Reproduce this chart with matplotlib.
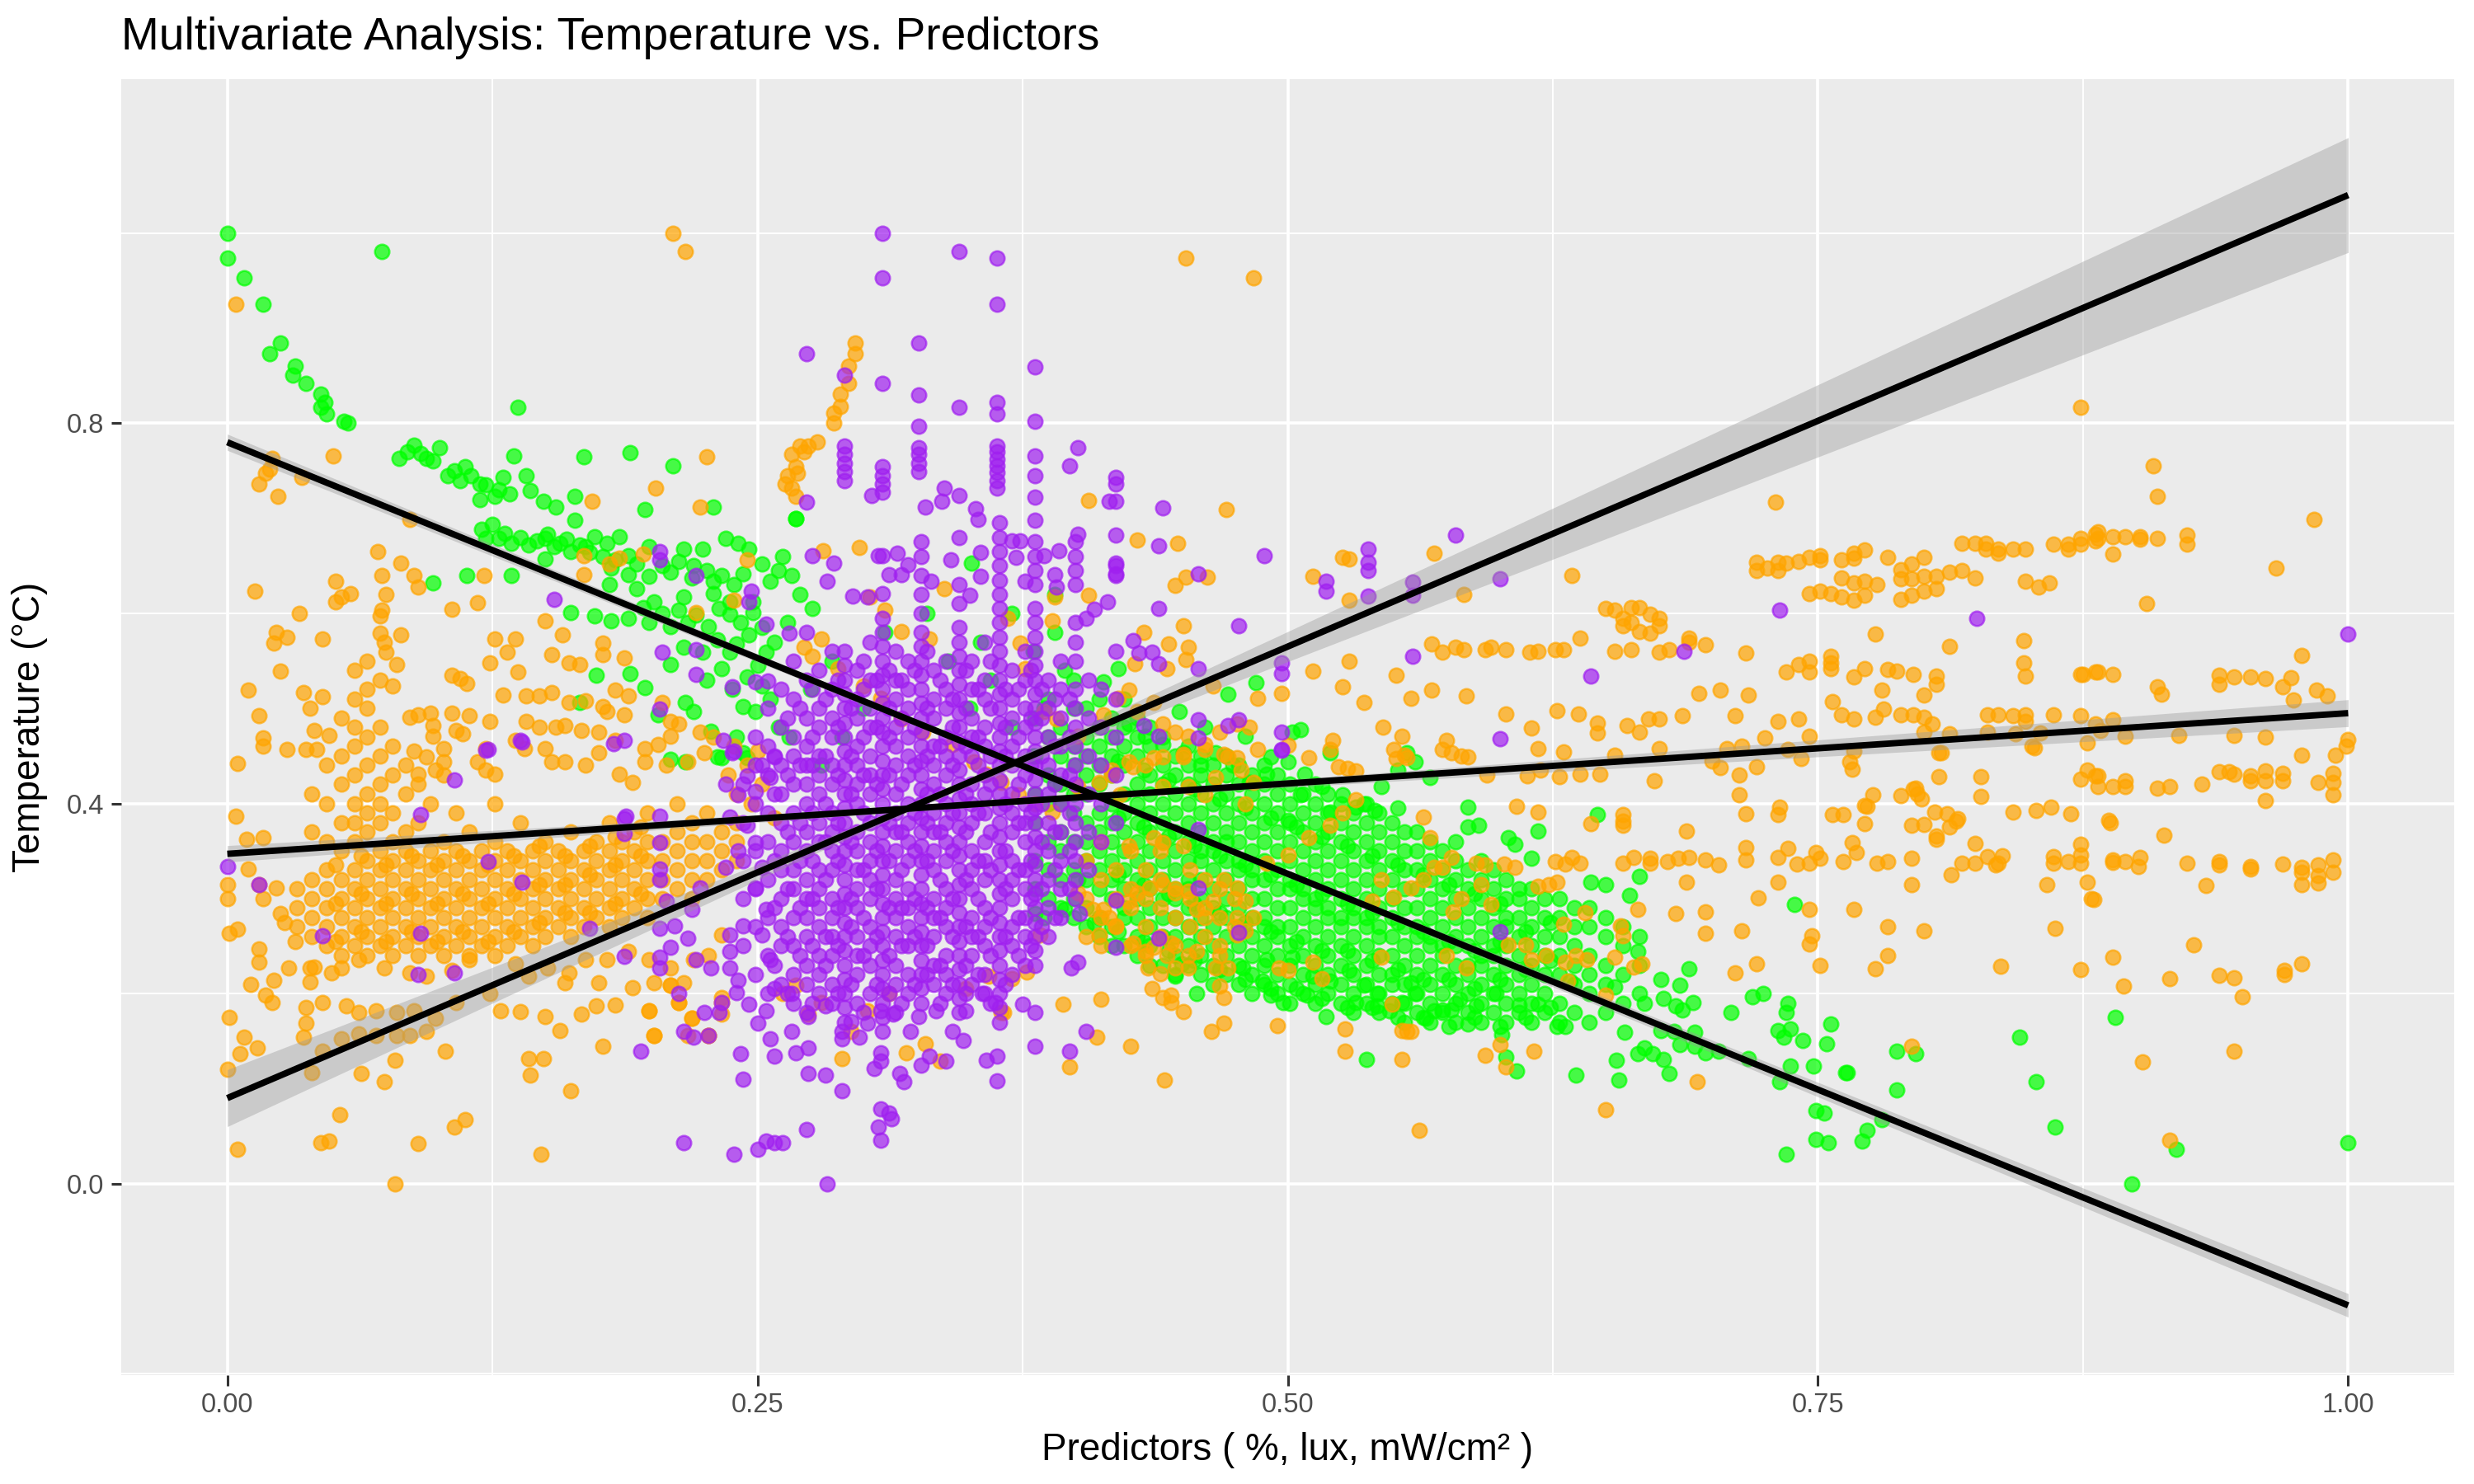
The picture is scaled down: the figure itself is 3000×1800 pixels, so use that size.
import numpy as np
import matplotlib.pyplot as plt

plt.rcParams['font.family'] = ['Liberation Sans', 'DejaVu Sans']

# colours of the three predictors
humid_col = '#00FF00'
light_col = '#FFA500'
uv_col = '#A020F0'

# ---------------- humidity (%) ----------------
humid_tail = [(0.000, 1.000), (0.000, 0.974), (0.008, 0.953), (0.017, 0.925), (0.025, 0.884),
              (0.020, 0.873), (0.032, 0.860), (0.031, 0.851), (0.037, 0.842), (0.044, 0.831),
              (0.046, 0.822), (0.044, 0.817), (0.047, 0.810), (0.055, 0.802), (0.057, 0.800),
              (0.073, 0.981), (0.137, 0.817)]

humid_ridge = [(0.081, 0.763), (0.088, 0.777), (0.100, 0.774), (0.094, 0.763), (0.104, 0.745),
               (0.112, 0.754), (0.119, 0.736), (0.119, 0.720), (0.126, 0.723), (0.135, 0.766),
               (0.141, 0.745), (0.143, 0.729), (0.130, 0.743), (0.149, 0.718), (0.155, 0.712),
               (0.164, 0.723), (0.168, 0.765), (0.190, 0.769), (0.210, 0.755), (0.197, 0.709),
               (0.229, 0.712), (0.164, 0.698), (0.125, 0.694), (0.122, 0.679), (0.128, 0.679),
               (0.134, 0.674), (0.142, 0.672), (0.150, 0.679), (0.157, 0.674), (0.151, 0.683),
               (0.173, 0.681), (0.185, 0.681), (0.179, 0.674), (0.169, 0.670), (0.189, 0.661),
               (0.199, 0.670), (0.215, 0.668), (0.224, 0.668), (0.235, 0.679), (0.241, 0.674),
               (0.246, 0.668), (0.252, 0.652), (0.260, 0.645), (0.150, 0.657), (0.162, 0.665),
               (0.181, 0.648), (0.189, 0.641), (0.199, 0.639), (0.209, 0.643), (0.219, 0.637),
               (0.229, 0.634), (0.239, 0.630), (0.256, 0.634), (0.180, 0.630), (0.193, 0.626),
               (0.201, 0.612), (0.215, 0.617), (0.229, 0.621), (0.237, 0.612), (0.248, 0.612),
               (0.162, 0.601), (0.173, 0.597), (0.181, 0.592), (0.189, 0.595), (0.199, 0.590),
               (0.209, 0.586), (0.217, 0.590), (0.227, 0.586), (0.237, 0.599), (0.248, 0.601),
               (0.231, 0.572), (0.237, 0.559), (0.246, 0.577), (0.254, 0.559), (0.224, 0.559),
               (0.209, 0.546), (0.215, 0.564), (0.233, 0.542), (0.245, 0.533), (0.252, 0.524),
               (0.174, 0.535), (0.190, 0.537), (0.197, 0.522), (0.166, 0.506), (0.216, 0.506),
               (0.220, 0.497), (0.203, 0.493), (0.243, 0.502), (0.231, 0.449), (0.216, 0.444),
               (0.097, 0.632), (0.113, 0.640), (0.134, 0.640), (0.243, 0.453), (0.249, 0.497),
               (0.209, 0.446), (0.233, 0.448), (0.245, 0.448), (0.085, 0.770), (0.091, 0.768),
               (0.097, 0.760), (0.107, 0.750), (0.110, 0.740), (0.115, 0.745), (0.122, 0.735),
               (0.128, 0.730), (0.133, 0.726), (0.120, 0.688), (0.131, 0.684), (0.138, 0.680),
               (0.146, 0.676), (0.154, 0.670), (0.160, 0.678), (0.166, 0.672), (0.171, 0.664),
               (0.177, 0.660), (0.183, 0.656), (0.193, 0.652), (0.205, 0.650), (0.213, 0.655),
               (0.220, 0.650), (0.226, 0.645), (0.233, 0.640), (0.243, 0.642), (0.196, 0.606),
               (0.205, 0.600), (0.213, 0.603), (0.221, 0.598), (0.232, 0.605), (0.242, 0.590),
               (0.252, 0.585), (0.258, 0.570), (0.240, 0.568), (0.250, 0.545), (0.226, 0.530),
               (0.238, 0.520), (0.256, 0.510), (0.260, 0.480), (0.228, 0.476), (0.240, 0.470)]

humid_hidden = [(0.262, 0.660), (0.266, 0.640), (0.270, 0.620), (0.276, 0.605), (0.264, 0.590),
                (0.268, 0.700), (0.310, 0.580), (0.330, 0.600), (0.355, 0.570), (0.370, 0.600),
                (0.380, 0.560), (0.390, 0.580), (0.395, 0.540), (0.285, 0.550), (0.275, 0.520),
                (0.300, 0.500), (0.290, 0.470), (0.265, 0.470), (0.280, 0.440), (0.350, 0.500),
                (0.370, 0.480), (0.380, 0.450), (0.390, 0.420), (0.385, 0.500), (0.360, 0.530),
                (0.340, 0.550), (0.351, 0.653), (0.390, 0.620)]

# dense cloud: x -> list of y
humid_core = {
    0.381: [0.31, 0.34, 0.38, 0.41, 0.45, 0.49],
    0.387: [0.30, 0.33, 0.36, 0.40, 0.43, 0.47, 0.51],
    0.393: [0.29, 0.32, 0.35, 0.37, 0.40, 0.42, 0.45, 0.48],
    0.399: [0.28, 0.30, 0.33, 0.36, 0.39, 0.41, 0.44, 0.46, 0.50, 0.53],
    0.405: [0.27, 0.29, 0.32, 0.34, 0.36, 0.38, 0.41, 0.43, 0.45, 0.47, 0.50],
    0.411: [0.26, 0.28, 0.31, 0.33, 0.35, 0.37, 0.39, 0.42, 0.44, 0.46, 0.48, 0.51],
    0.417: [0.25, 0.27, 0.30, 0.32, 0.34, 0.36, 0.38, 0.40, 0.43, 0.45, 0.47, 0.49],
    0.423: [0.25, 0.28, 0.29, 0.31, 0.33, 0.35, 0.37, 0.39, 0.41, 0.44, 0.46, 0.48, 0.51],
    0.429: [0.24, 0.26, 0.28, 0.30, 0.32, 0.34, 0.36, 0.38, 0.40, 0.42, 0.45, 0.47, 0.49],
    0.435: [0.23, 0.25, 0.27, 0.29, 0.31, 0.33, 0.35, 0.37, 0.39, 0.41, 0.43, 0.46, 0.48],
    0.441: [0.23, 0.26, 0.28, 0.30, 0.32, 0.34, 0.36, 0.38, 0.40, 0.42, 0.44, 0.47],
    0.447: [0.22, 0.24, 0.26, 0.28, 0.30, 0.31, 0.33, 0.35, 0.37, 0.39, 0.41, 0.43, 0.45],
    0.453: [0.23, 0.25, 0.27, 0.29, 0.31, 0.32, 0.34, 0.36, 0.38, 0.40, 0.42, 0.44, 0.46],
    0.459: [0.22, 0.24, 0.26, 0.28, 0.30, 0.32, 0.34, 0.35, 0.37, 0.39, 0.41, 0.43, 0.45],
    0.465: [0.21, 0.23, 0.25, 0.27, 0.29, 0.31, 0.33, 0.35, 0.36, 0.38, 0.40, 0.42, 0.44],
    0.471: [0.22, 0.24, 0.26, 0.28, 0.30, 0.32, 0.34, 0.36, 0.37, 0.39, 0.41, 0.43, 0.45],
    0.477: [0.21, 0.23, 0.25, 0.27, 0.29, 0.31, 0.33, 0.34, 0.36, 0.38, 0.40, 0.42, 0.44],
    0.483: [0.20, 0.22, 0.24, 0.26, 0.28, 0.30, 0.32, 0.33, 0.35, 0.37, 0.39, 0.41, 0.43],
    0.489: [0.21, 0.23, 0.25, 0.27, 0.28, 0.30, 0.32, 0.34, 0.36, 0.38, 0.40, 0.42, 0.44],
    0.495: [0.20, 0.22, 0.24, 0.26, 0.27, 0.29, 0.31, 0.33, 0.35, 0.37, 0.39, 0.41, 0.43],
    0.501: [0.19, 0.21, 0.23, 0.25, 0.27, 0.29, 0.31, 0.32, 0.34, 0.36, 0.38, 0.40, 0.42],
    0.507: [0.20, 0.22, 0.24, 0.26, 0.28, 0.30, 0.31, 0.33, 0.35, 0.37, 0.39, 0.41],
    0.513: [0.19, 0.21, 0.23, 0.25, 0.27, 0.29, 0.30, 0.32, 0.34, 0.36, 0.38, 0.40, 0.42],
    0.519: [0.20, 0.22, 0.24, 0.26, 0.28, 0.29, 0.31, 0.33, 0.35, 0.37, 0.39, 0.41],
    0.525: [0.19, 0.21, 0.23, 0.25, 0.27, 0.28, 0.30, 0.32, 0.34, 0.36, 0.38, 0.40],
    0.531: [0.18, 0.20, 0.22, 0.24, 0.26, 0.28, 0.29, 0.31, 0.33, 0.35, 0.37, 0.39],
    0.537: [0.19, 0.21, 0.23, 0.25, 0.27, 0.28, 0.30, 0.32, 0.34, 0.36, 0.38, 0.40],
    0.543: [0.18, 0.20, 0.22, 0.24, 0.26, 0.27, 0.29, 0.31, 0.33, 0.35, 0.37, 0.39],
    0.549: [0.19, 0.21, 0.22, 0.24, 0.26, 0.28, 0.30, 0.32, 0.34, 0.36, 0.38],
    0.555: [0.17, 0.19, 0.21, 0.23, 0.25, 0.27, 0.29, 0.31, 0.33, 0.35, 0.37],
    0.561: [0.18, 0.20, 0.22, 0.24, 0.26, 0.27, 0.29, 0.31, 0.33, 0.35, 0.37],
    0.567: [0.17, 0.19, 0.21, 0.23, 0.25, 0.26, 0.28, 0.30, 0.32, 0.34, 0.36],
    0.573: [0.18, 0.20, 0.22, 0.24, 0.25, 0.27, 0.29, 0.31, 0.33, 0.35],
    0.579: [0.17, 0.19, 0.21, 0.23, 0.25, 0.26, 0.28, 0.30, 0.32, 0.34, 0.36],
    0.585: [0.18, 0.20, 0.22, 0.23, 0.25, 0.27, 0.29, 0.31, 0.33],
    0.591: [0.17, 0.19, 0.21, 0.23, 0.24, 0.26, 0.28, 0.30, 0.32, 0.34],
    0.597: [0.18, 0.20, 0.22, 0.24, 0.25, 0.27, 0.29, 0.31, 0.33],
    0.603: [0.17, 0.19, 0.21, 0.23, 0.25, 0.27, 0.28, 0.30, 0.32],
    0.609: [0.18, 0.20, 0.22, 0.24, 0.26, 0.28, 0.30, 0.31],
    0.615: [0.17, 0.19, 0.21, 0.23, 0.25, 0.27, 0.29, 0.31],
    0.621: [0.18, 0.20, 0.22, 0.24, 0.26, 0.28, 0.30],
    0.628: [0.17, 0.19, 0.22, 0.24, 0.26, 0.28, 0.30],
    0.635: [0.18, 0.21, 0.23, 0.25, 0.27, 0.29],
    0.642: [0.17, 0.20, 0.22, 0.24, 0.27, 0.29],
    0.650: [0.18, 0.21, 0.23, 0.26, 0.28],
    0.658: [0.19, 0.22, 0.25, 0.27],
    0.666: [0.20, 0.23, 0.26],
}

# in-between points of the same cloud
humid_fill = {
    0.420: [0.265, 0.325, 0.385, 0.445],
    0.432: [0.255, 0.315, 0.375, 0.435],
    0.444: [0.245, 0.305, 0.365, 0.425],
    0.456: [0.235, 0.295, 0.355, 0.415],
    0.468: [0.225, 0.285, 0.345, 0.405],
    0.480: [0.215, 0.275, 0.335, 0.395],
    0.492: [0.205, 0.265, 0.325, 0.385],
    0.504: [0.205, 0.255, 0.315, 0.375],
    0.516: [0.195, 0.245, 0.305, 0.365],
    0.528: [0.185, 0.245, 0.295, 0.355],
    0.540: [0.185, 0.235, 0.285, 0.345],
    0.552: [0.175, 0.225, 0.275, 0.335],
    0.564: [0.175, 0.215, 0.265, 0.325],
    0.576: [0.165, 0.215, 0.255, 0.315],
    0.588: [0.175, 0.205, 0.245, 0.305],
    0.600: [0.165, 0.215, 0.255, 0.295],
    0.612: [0.175, 0.225, 0.265],
    0.624: [0.185, 0.235, 0.275],
}

humid_spread = [(0.268, 0.700), (0.485, 0.527), (0.472, 0.515), (0.502, 0.475), (0.506, 0.478),
                (0.520, 0.453), (0.532, 0.396), (0.541, 0.393), (0.552, 0.395), (0.420, 0.542),
                (0.413, 0.528), (0.425, 0.484), (0.433, 0.471), (0.441, 0.462), (0.451, 0.453),
                (0.459, 0.440), (0.466, 0.453), (0.474, 0.440), (0.482, 0.422), (0.490, 0.431),
                (0.500, 0.444), (0.508, 0.431), (0.516, 0.418), (0.526, 0.409), (0.536, 0.400),
                (0.544, 0.418), (0.552, 0.435), (0.560, 0.444), (0.567, 0.427), (0.449, 0.497),
                (0.461, 0.480), (0.480, 0.471), (0.492, 0.449), (0.506, 0.409), (0.520, 0.391),
                (0.556, 0.453), (0.500, 0.382), (0.457, 0.200), (0.488, 0.213), (0.492, 0.198),
                (0.498, 0.191), (0.509, 0.198), (0.518, 0.176), (0.532, 0.191), (0.537, 0.131),
                (0.542, 0.187), (0.548, 0.182), (0.560, 0.200), (0.565, 0.174), (0.569, 0.182),
                (0.479, 0.227), (0.490, 0.236), (0.502, 0.238), (0.512, 0.218), (0.520, 0.213),
                (0.529, 0.224), (0.536, 0.209), (0.542, 0.200), (0.554, 0.191), (0.558, 0.211),
                (0.450, 0.231), (0.447, 0.218), (0.381, 0.284), (0.385, 0.280), (0.395, 0.289),
                (0.409, 0.275), (0.401, 0.320), (0.689, 0.226), (0.676, 0.215), (0.685, 0.209),
                (0.691, 0.191), (0.677, 0.195), (0.668, 0.190), (0.683, 0.187), (0.686, 0.183),
                (0.659, 0.159), (0.676, 0.161), (0.682, 0.160), (0.692, 0.159), (0.685, 0.146),
                (0.692, 0.145), (0.668, 0.143), (0.665, 0.137), (0.672, 0.137), (0.677, 0.131),
                (0.680, 0.116), (0.656, 0.109), (0.636, 0.114), (0.655, 0.130), (0.697, 0.138),
                (0.709, 0.180), (0.719, 0.197), (0.724, 0.200), (0.736, 0.190), (0.735, 0.180),
                (0.731, 0.161), (0.737, 0.163), (0.734, 0.154), (0.739, 0.294), (0.743, 0.151),
                (0.756, 0.168), (0.754, 0.147), (0.737, 0.124), (0.748, 0.124), (0.763, 0.117),
                (0.732, 0.107), (0.749, 0.077), (0.753, 0.074), (0.749, 0.047), (0.755, 0.043),
                (0.735, 0.031), (0.771, 0.045), (0.773, 0.056), (0.780, 0.067), (0.787, 0.139),
                (0.796, 0.137), (0.787, 0.099), (0.845, 0.154), (0.853, 0.107), (0.862, 0.060),
                (0.703, 0.139), (0.717, 0.132), (0.890, 0.175), (0.919, 0.036), (0.898, 0.000),
                (1.000, 0.043), (0.764, 0.117), (0.585, 0.396), (0.590, 0.377), (0.585, 0.375),
                (0.604, 0.364), (0.607, 0.357), (0.618, 0.371), (0.615, 0.342), (0.646, 0.388),
                (0.643, 0.317), (0.650, 0.315), (0.666, 0.323), (0.661, 0.303), (0.665, 0.244),
                (0.654, 0.207), (0.633, 0.213), (0.627, 0.165), (0.631, 0.165), (0.608, 0.119),
                (0.601, 0.157), (0.603, 0.133), (0.585, 0.168), (0.581, 0.194), (0.573, 0.183),
                (0.577, 0.183), (0.589, 0.187), (0.598, 0.200), (0.609, 0.188), (0.618, 0.189)]

# ---------------- light (lux) ----------------
light_core = {
    0.033: [0.27, 0.29, 0.31],
    0.040: [0.26, 0.28, 0.30, 0.32, 0.37, 0.41],
    0.047: [0.25, 0.27, 0.29, 0.31, 0.33, 0.36, 0.40, 0.44],
    0.054: [0.24, 0.26, 0.28, 0.30, 0.32, 0.35, 0.38, 0.42, 0.45, 0.49],
    0.060: [0.25, 0.27, 0.29, 0.31, 0.33, 0.36, 0.38, 0.40, 0.43, 0.46, 0.48, 0.51, 0.54],
    0.066: [0.24, 0.26, 0.28, 0.30, 0.32, 0.34, 0.37, 0.39, 0.41, 0.44, 0.47, 0.50, 0.52, 0.55],
    0.072: [0.25, 0.27, 0.29, 0.31, 0.33, 0.35, 0.38, 0.40, 0.42, 0.45, 0.48, 0.53],
    0.078: [0.24, 0.26, 0.28, 0.30, 0.32, 0.34, 0.36, 0.39, 0.43, 0.46],
    0.084: [0.25, 0.27, 0.29, 0.31, 0.33, 0.35, 0.37, 0.41, 0.44],
    0.090: [0.24, 0.26, 0.28, 0.30, 0.32, 0.34, 0.38, 0.42],
    0.096: [0.25, 0.27, 0.29, 0.31, 0.33, 0.35, 0.40],
    0.102: [0.24, 0.26, 0.28, 0.30, 0.32, 0.34, 0.36, 0.43],
    0.108: [0.25, 0.27, 0.29, 0.31, 0.33, 0.35, 0.39],
    0.114: [0.24, 0.26, 0.28, 0.30, 0.32, 0.34, 0.37],
    0.120: [0.25, 0.27, 0.29, 0.31, 0.33, 0.35],
    0.126: [0.26, 0.28, 0.30, 0.32, 0.34, 0.36, 0.40],
    0.132: [0.25, 0.27, 0.29, 0.31, 0.33, 0.35],
    0.138: [0.26, 0.28, 0.30, 0.32, 0.34, 0.38],
    0.144: [0.25, 0.27, 0.29, 0.31, 0.33, 0.35],
    0.150: [0.26, 0.28, 0.30, 0.32, 0.34, 0.36],
    0.156: [0.27, 0.29, 0.31, 0.33, 0.35],
    0.162: [0.26, 0.28, 0.30, 0.32, 0.34, 0.37],
    0.168: [0.27, 0.29, 0.31, 0.33, 0.35],
    0.174: [0.28, 0.30, 0.32, 0.34, 0.36],
    0.180: [0.27, 0.29, 0.31, 0.33, 0.35, 0.38],
    0.186: [0.28, 0.30, 0.32, 0.34, 0.36],
    0.192: [0.29, 0.31, 0.33, 0.35, 0.37],
    0.198: [0.28, 0.30, 0.32, 0.34, 0.36, 0.39],
    0.205: [0.30, 0.32, 0.34, 0.36],
    0.212: [0.31, 0.33, 0.35, 0.37, 0.40],
    0.219: [0.30, 0.32, 0.34, 0.36, 0.38],
    0.226: [0.32, 0.34, 0.36, 0.39],
    0.233: [0.33, 0.35, 0.37],
    0.240: [0.34, 0.36, 0.38, 0.41],
    # patch inside the humidity cloud
    0.405: [0.26, 0.30, 0.34],
    0.412: [0.25, 0.28, 0.32, 0.36],
    0.419: [0.27, 0.30, 0.33],
    0.426: [0.25, 0.29, 0.31, 0.35],
    0.433: [0.24, 0.27, 0.30, 0.33],
    0.440: [0.26, 0.29, 0.32, 0.35],
    0.447: [0.25, 0.28, 0.31],
    0.454: [0.27, 0.30, 0.33],
    0.461: [0.26, 0.29, 0.32],
    0.468: [0.25, 0.28, 0.31],
    0.475: [0.27, 0.30],
}

light_fill = {
    0.051: [0.255, 0.295, 0.335],
    0.063: [0.265, 0.305, 0.345],
    0.075: [0.255, 0.295, 0.335],
    0.087: [0.265, 0.305, 0.345],
    0.099: [0.255, 0.295, 0.335],
    0.111: [0.265, 0.305, 0.345],
    0.123: [0.255, 0.295, 0.335],
    0.135: [0.265, 0.305, 0.345],
    0.147: [0.275, 0.315, 0.355],
    0.159: [0.285, 0.315, 0.345],
    0.171: [0.285, 0.325, 0.355],
    0.183: [0.295, 0.335, 0.365],
    0.195: [0.305, 0.345, 0.375],
}

light_left = [(0.000, 0.315), (0.000, 0.300), (0.001, 0.263), (0.005, 0.268), (0.004, 0.387),
              (0.005, 0.442), (0.009, 0.362), (0.017, 0.364), (0.010, 0.331), (0.015, 0.315),
              (0.017, 0.300), (0.023, 0.311), (0.025, 0.284), (0.027, 0.275), (0.015, 0.247),
              (0.015, 0.233), (0.029, 0.227), (0.039, 0.227), (0.011, 0.210), (0.018, 0.198),
              (0.021, 0.191), (0.022, 0.214), (0.001, 0.175), (0.008, 0.154), (0.006, 0.137),
              (0.014, 0.143), (0.000, 0.120), (0.005, 0.036), (0.032, 0.255), (0.037, 0.185),
              (0.037, 0.169), (0.036, 0.154), (0.040, 0.117), (0.041, 0.228), (0.039, 0.212),
              (0.045, 0.191), (0.054, 0.152), (0.045, 0.139), (0.053, 0.073), (0.044, 0.043),
              (0.048, 0.045), (0.063, 0.116), (0.074, 0.107), (0.079, 0.130), (0.079, 0.000),
              (0.090, 0.042), (0.107, 0.060), (0.112, 0.067), (0.103, 0.139), (0.056, 0.187),
              (0.062, 0.180), (0.070, 0.182), (0.080, 0.180), (0.088, 0.182), (0.094, 0.160),
              (0.086, 0.156), (0.080, 0.156), (0.070, 0.156), (0.062, 0.158), (0.098, 0.174),
              (0.108, 0.191), (0.124, 0.200), (0.129, 0.182), (0.138, 0.181), (0.150, 0.176),
              (0.157, 0.161), (0.143, 0.114), (0.142, 0.132), (0.149, 0.132), (0.148, 0.031),
              (0.162, 0.098), (0.167, 0.178), (0.177, 0.145), (0.175, 0.211), (0.174, 0.187),
              (0.183, 0.188), (0.191, 0.206), (0.201, 0.211), (0.159, 0.211), (0.215, 0.211),
              (0.220, 0.236), (0.227, 0.240), (0.233, 0.262), (0.209, 0.227), (0.199, 0.236),
              (0.189, 0.244), (0.179, 0.236), (0.169, 0.236), (0.161, 0.222), (0.151, 0.227),
              (0.142, 0.218), (0.136, 0.231), (0.126, 0.240), (0.114, 0.236), (0.106, 0.224),
              (0.094, 0.218), (0.086, 0.222), (0.074, 0.227), (0.062, 0.236), (0.054, 0.227),
              (0.049, 0.222), (0.209, 0.209), (0.213, 0.191), (0.219, 0.174), (0.217, 0.156),
              (0.227, 0.156), (0.233, 0.178), (0.233, 0.196), (0.199, 0.182), (0.201, 0.156),
              (0.013, 0.623), (0.010, 0.519), (0.015, 0.492), (0.017, 0.469), (0.017, 0.460),
              (0.023, 0.580), (0.022, 0.569), (0.028, 0.575), (0.025, 0.539), (0.034, 0.600),
              (0.036, 0.517), (0.039, 0.500), (0.045, 0.512), (0.045, 0.573), (0.041, 0.477),
              (0.048, 0.472), (0.051, 0.634), (0.051, 0.612), (0.054, 0.617), (0.058, 0.621),
              (0.028, 0.457), (0.037, 0.457), (0.042, 0.457), (0.071, 0.665), (0.082, 0.653),
              (0.088, 0.640), (0.090, 0.628), (0.073, 0.640), (0.075, 0.620), (0.073, 0.603),
              (0.072, 0.597), (0.072, 0.579), (0.074, 0.570), (0.075, 0.559), (0.082, 0.577),
              (0.080, 0.546), (0.078, 0.524), (0.106, 0.604), (0.118, 0.611), (0.106, 0.535),
              (0.110, 0.531), (0.113, 0.526), (0.086, 0.491), (0.090, 0.493), (0.096, 0.495),
              (0.106, 0.495), (0.114, 0.492), (0.097, 0.482), (0.097, 0.471), (0.102, 0.458),
              (0.108, 0.477), (0.111, 0.473), (0.088, 0.455), (0.094, 0.449), (0.102, 0.444),
              (0.098, 0.435), (0.090, 0.431), (0.118, 0.444), (0.122, 0.435), (0.126, 0.431),
              (0.122, 0.458), (0.121, 0.640), (0.126, 0.573), (0.136, 0.573), (0.132, 0.559),
              (0.124, 0.548), (0.137, 0.538), (0.124, 0.486), (0.130, 0.514), (0.141, 0.513),
              (0.147, 0.513), (0.153, 0.517), (0.141, 0.486), (0.147, 0.480), (0.136, 0.466),
              (0.140, 0.458), (0.150, 0.458), (0.153, 0.444), (0.159, 0.444), (0.150, 0.592),
              (0.158, 0.577), (0.153, 0.557), (0.161, 0.548), (0.166, 0.546), (0.177, 0.569),
              (0.187, 0.553), (0.177, 0.557), (0.159, 0.482), (0.167, 0.477), (0.175, 0.475),
              (0.183, 0.466), (0.175, 0.453), (0.169, 0.440), (0.185, 0.431), (0.191, 0.422),
              (0.197, 0.458), (0.203, 0.462), (0.209, 0.471), (0.213, 0.484), (0.223, 0.475),
              (0.217, 0.444), (0.225, 0.453), (0.207, 0.440), (0.197, 0.444), (0.179, 0.497),
              (0.187, 0.493), (0.183, 0.519), (0.189, 0.513), (0.205, 0.506), (0.209, 0.486),
              (0.177, 0.502), (0.169, 0.508), (0.161, 0.506), (0.155, 0.480), (0.004, 0.925),
              (0.210, 1.000), (0.216, 0.981), (0.050, 0.766), (0.226, 0.765), (0.202, 0.732),
              (0.223, 0.712), (0.086, 0.699), (0.015, 0.736), (0.018, 0.747), (0.020, 0.752),
              (0.021, 0.763), (0.024, 0.723), (0.035, 0.743), (0.168, 0.661), (0.168, 0.641),
              (0.180, 0.652), (0.185, 0.658), (0.196, 0.662), (0.172, 0.718), (0.245, 0.656),
              (0.239, 0.614), (0.221, 0.601), (0.209, 0.209), (0.213, 0.191), (0.219, 0.174),
              (0.227, 0.156), (0.199, 0.182), (0.201, 0.156), (0.233, 0.191)]

light_mid = [(0.296, 0.884), (0.296, 0.873), (0.293, 0.860), (0.293, 0.842), (0.289, 0.831),
             (0.289, 0.818), (0.286, 0.811), (0.286, 0.800), (0.274, 0.776), (0.270, 0.776),
             (0.266, 0.767), (0.268, 0.754), (0.269, 0.747), (0.264, 0.745), (0.266, 0.732),
             (0.268, 0.723), (0.263, 0.736), (0.272, 0.770), (0.278, 0.780), (0.452, 0.974),
             (0.484, 0.953), (0.406, 0.719), (0.471, 0.709), (0.429, 0.677), (0.448, 0.674),
             (0.298, 0.669), (0.281, 0.666), (0.452, 0.638), (0.462, 0.638), (0.447, 0.629),
             (0.526, 0.659), (0.529, 0.657), (0.512, 0.639), (0.529, 0.614), (0.569, 0.663),
             (0.432, 0.580), (0.451, 0.587), (0.444, 0.568), (0.453, 0.564), (0.428, 0.547),
             (0.443, 0.542), (0.452, 0.551), (0.465, 0.524), (0.486, 0.511), (0.497, 0.516),
             (0.512, 0.539), (0.529, 0.550), (0.526, 0.523), (0.536, 0.506), (0.551, 0.535),
             (0.558, 0.511), (0.568, 0.519), (0.545, 0.480), (0.554, 0.471), (0.551, 0.447),
             (0.555, 0.451), (0.528, 0.437), (0.521, 0.466), (0.568, 0.568), (0.303, 0.617),
             (0.310, 0.603), (0.318, 0.581), (0.331, 0.573), (0.338, 0.626), (0.406, 0.619),
             (0.389, 0.592), (0.390, 0.617), (0.368, 0.595), (0.374, 0.569), (0.376, 0.542),
             (0.385, 0.497), (0.391, 0.489), (0.401, 0.471), (0.413, 0.493), (0.420, 0.511),
             (0.425, 0.519), (0.429, 0.497), (0.437, 0.506), (0.441, 0.484), (0.447, 0.475),
             (0.453, 0.471), (0.461, 0.462), (0.468, 0.475), (0.476, 0.484), (0.482, 0.480),
             (0.472, 0.449), (0.478, 0.435), (0.451, 0.449), (0.441, 0.449), (0.433, 0.440),
             (0.425, 0.444), (0.417, 0.435), (0.411, 0.422), (0.401, 0.418), (0.421, 0.409),
             (0.441, 0.418), (0.453, 0.418), (0.461, 0.409), (0.466, 0.427), (0.480, 0.400),
             (0.484, 0.422), (0.272, 0.564), (0.280, 0.573), (0.276, 0.555), (0.288, 0.542),
             (0.300, 0.524), (0.308, 0.511), (0.318, 0.489), (0.328, 0.475), (0.342, 0.462),
             (0.352, 0.444), (0.358, 0.431), (0.365, 0.422), (0.373, 0.409), (0.381, 0.400),
             (0.389, 0.391), (0.394, 0.189), (0.412, 0.194), (0.410, 0.154), (0.426, 0.145),
             (0.397, 0.123), (0.442, 0.109), (0.464, 0.160), (0.470, 0.169), (0.495, 0.166),
             (0.527, 0.163), (0.527, 0.139), (0.554, 0.131), (0.554, 0.161), (0.558, 0.160),
             (0.562, 0.056), (0.436, 0.205), (0.441, 0.196), (0.445, 0.191), (0.445, 0.198),
             (0.451, 0.181), (0.468, 0.208), (0.470, 0.196), (0.466, 0.227), (0.472, 0.227),
             (0.434, 0.227), (0.440, 0.221), (0.447, 0.227), (0.453, 0.227), (0.370, 0.216),
             (0.377, 0.223), (0.383, 0.262), (0.366, 0.180), (0.268, 0.209), (0.290, 0.132),
             (0.320, 0.138), (0.329, 0.147), (0.336, 0.129), (0.365, 0.180), (0.348, 0.205),
             (0.359, 0.218), (0.262, 0.200), (0.280, 0.191), (0.274, 0.178), (0.302, 0.182),
             (0.312, 0.200), (0.294, 0.160), (0.413, 0.289), (0.416, 0.280), (0.419, 0.271),
             (0.425, 0.297), (0.429, 0.306), (0.435, 0.311), (0.441, 0.315), (0.447, 0.306),
             (0.453, 0.308), (0.457, 0.289), (0.461, 0.280), (0.465, 0.297), (0.470, 0.320),
             (0.476, 0.311), (0.480, 0.297), (0.484, 0.280), (0.476, 0.280), (0.490, 0.337),
             (0.500, 0.346), (0.510, 0.364), (0.520, 0.377), (0.526, 0.390), (0.532, 0.404),
             (0.540, 0.297), (0.544, 0.320), (0.550, 0.302), (0.558, 0.311), (0.564, 0.320),
             (0.569, 0.333), (0.496, 0.227), (0.500, 0.224), (0.512, 0.233), (0.516, 0.216),
             (0.544, 0.238), (0.549, 0.189), (0.556, 0.160), (0.427, 0.253), (0.433, 0.244),
             (0.437, 0.249), (0.445, 0.253), (0.443, 0.240), (0.453, 0.240), (0.457, 0.244),
             (0.468, 0.240), (0.476, 0.262), (0.480, 0.266), (0.411, 0.262), (0.408, 0.289),
             (0.401, 0.306), (0.425, 0.355), (0.437, 0.364), (0.441, 0.359), (0.451, 0.355),
             (0.417, 0.430), (0.427, 0.439), (0.437, 0.448), (0.451, 0.452), (0.461, 0.457),
             (0.470, 0.452), (0.476, 0.448), (0.486, 0.457), (0.500, 0.461), (0.510, 0.448),
             (0.520, 0.457), (0.524, 0.439), (0.532, 0.434), (0.550, 0.457), (0.556, 0.448),
             (0.564, 0.386), (0.567, 0.364), (0.229, 0.470), (0.239, 0.460), (0.245, 0.440),
             (0.252, 0.420), (0.247, 0.400), (0.258, 0.385), (0.236, 0.430), (0.250, 0.455)]

light_right = [(0.721, 0.654), (0.721, 0.645), (0.726, 0.648), (0.731, 0.654), (0.731, 0.645),
               (0.735, 0.653), (0.741, 0.655), (0.746, 0.659), (0.751, 0.661), (0.751, 0.656),
               (0.761, 0.656), (0.767, 0.663), (0.767, 0.658), (0.772, 0.667), (0.783, 0.659),
               (0.789, 0.646), (0.794, 0.652), (0.800, 0.659), (0.789, 0.636), (0.794, 0.636),
               (0.800, 0.639), (0.806, 0.639), (0.812, 0.643), (0.818, 0.645), (0.824, 0.637),
               (0.818, 0.674), (0.824, 0.674), (0.829, 0.674), (0.829, 0.668), (0.835, 0.668),
               (0.835, 0.663), (0.842, 0.668), (0.848, 0.668), (0.848, 0.634), (0.854, 0.628),
               (0.859, 0.632), (0.861, 0.673), (0.868, 0.673), (0.868, 0.668), (0.874, 0.679),
               (0.874, 0.673), (0.881, 0.683), (0.881, 0.676), (0.746, 0.621), (0.751, 0.623),
               (0.756, 0.621), (0.761, 0.617), (0.767, 0.614), (0.772, 0.619), (0.772, 0.634),
               (0.778, 0.630), (0.761, 0.637), (0.767, 0.632), (0.789, 0.615), (0.794, 0.619),
               (0.800, 0.623), (0.806, 0.626), (0.650, 0.605), (0.654, 0.603), (0.658, 0.595),
               (0.662, 0.606), (0.662, 0.590), (0.666, 0.606), (0.671, 0.599), (0.671, 0.579),
               (0.675, 0.595), (0.675, 0.587), (0.658, 0.587), (0.666, 0.581), (0.573, 0.559),
               (0.579, 0.564), (0.583, 0.562), (0.593, 0.562), (0.596, 0.564), (0.603, 0.562),
               (0.614, 0.559), (0.618, 0.560), (0.626, 0.562), (0.630, 0.562), (0.638, 0.574),
               (0.654, 0.560), (0.662, 0.562), (0.675, 0.559), (0.680, 0.562), (0.689, 0.574),
               (0.689, 0.570), (0.697, 0.567), (0.716, 0.558), (0.777, 0.578), (0.812, 0.565),
               (0.847, 0.571), (0.847, 0.548), (0.848, 0.534), (0.735, 0.538), (0.741, 0.546),
               (0.746, 0.550), (0.746, 0.538), (0.756, 0.555), (0.756, 0.548), (0.756, 0.542),
               (0.767, 0.533), (0.772, 0.542), (0.783, 0.541), (0.787, 0.539), (0.795, 0.536),
               (0.806, 0.534), (0.806, 0.525), (0.800, 0.514), (0.780, 0.519), (0.757, 0.507),
               (0.874, 0.536), (0.881, 0.538), (0.730, 0.717), (0.634, 0.640), (0.583, 0.620),
               (0.874, 0.817), (0.584, 0.513), (0.694, 0.516), (0.704, 0.519), (0.717, 0.514),
               (0.603, 0.494), (0.615, 0.479), (0.627, 0.498), (0.637, 0.494), (0.646, 0.485),
               (0.646, 0.474), (0.660, 0.482), (0.666, 0.475), (0.670, 0.489), (0.675, 0.489),
               (0.686, 0.492), (0.711, 0.492), (0.731, 0.486), (0.741, 0.489), (0.761, 0.493),
               (0.767, 0.489), (0.777, 0.491), (0.781, 0.499), (0.789, 0.493), (0.795, 0.493),
               (0.800, 0.491), (0.804, 0.484), (0.830, 0.493), (0.835, 0.493), (0.842, 0.492),
               (0.848, 0.493), (0.848, 0.486), (0.861, 0.493), (0.874, 0.492), (0.881, 0.484),
               (0.618, 0.458), (0.630, 0.454), (0.575, 0.466), (0.573, 0.457), (0.577, 0.453),
               (0.582, 0.450), (0.585, 0.449), (0.654, 0.451), (0.675, 0.458), (0.707, 0.458),
               (0.714, 0.460), (0.725, 0.469), (0.736, 0.457), (0.746, 0.471), (0.742, 0.447),
               (0.765, 0.444), (0.767, 0.455), (0.807, 0.453), (0.851, 0.460), (0.877, 0.464),
               (0.594, 0.430), (0.613, 0.429), (0.619, 0.435), (0.628, 0.428), (0.638, 0.431),
               (0.647, 0.431), (0.673, 0.424), (0.700, 0.445), (0.704, 0.438), (0.721, 0.439),
               (0.713, 0.430), (0.713, 0.409), (0.716, 0.389), (0.732, 0.396), (0.608, 0.397),
               (0.618, 0.391), (0.772, 0.398), (0.776, 0.409), (0.789, 0.408), (0.797, 0.410),
               (0.807, 0.428), (0.827, 0.428), (0.827, 0.407), (0.805, 0.391), (0.811, 0.389),
               (0.842, 0.391), (0.853, 0.393), (0.860, 0.396), (0.869, 0.389), (0.874, 0.426),
               (0.877, 0.435), (0.881, 0.429), (0.908, 0.755), (0.910, 0.723), (0.984, 0.699),
               (0.966, 0.648), (0.905, 0.610), (0.882, 0.686), (0.882, 0.679), (0.889, 0.681),
               (0.889, 0.662), (0.895, 0.681), (0.902, 0.681), (0.902, 0.678), (0.910, 0.679),
               (0.924, 0.682), (0.924, 0.673), (0.875, 0.536), (0.882, 0.538), (0.889, 0.536),
               (0.910, 0.523), (0.912, 0.515), (0.939, 0.535), (0.939, 0.525), (0.946, 0.533),
               (0.954, 0.533), (0.961, 0.531), (0.969, 0.523), (0.973, 0.532), (0.974, 0.509),
               (0.978, 0.556), (0.985, 0.519), (0.990, 0.513), (0.889, 0.488), (0.883, 0.477),
               (0.895, 0.471), (0.920, 0.472), (0.946, 0.472), (0.961, 0.470), (1.000, 0.467),
               (0.999, 0.460), (0.994, 0.451), (0.978, 0.451), (0.993, 0.432), (0.993, 0.422),
               (0.993, 0.409), (0.986, 0.422), (0.969, 0.432), (0.969, 0.424), (0.961, 0.434),
               (0.961, 0.424), (0.954, 0.429), (0.954, 0.424), (0.946, 0.431), (0.944, 0.433),
               (0.939, 0.433), (0.931, 0.420), (0.916, 0.418), (0.910, 0.416), (0.895, 0.424),
               (0.895, 0.418), (0.889, 0.418), (0.882, 0.429), (0.882, 0.418), (0.961, 0.403),
               (0.887, 0.382), (0.766, 0.436), (0.800, 0.475), (0.812, 0.473), (0.808, 0.453),
               (0.830, 0.475), (0.843, 0.473), (0.855, 0.474), (0.852, 0.459), (0.796, 0.416),
               (0.799, 0.405), (0.773, 0.397), (0.757, 0.388), (0.762, 0.388), (0.816, 0.384),
               (0.643, 0.379), (0.658, 0.388), (0.658, 0.381), (0.658, 0.377), (0.688, 0.371),
               (0.716, 0.354), (0.716, 0.341), (0.731, 0.388), (0.772, 0.379), (0.795, 0.415),
               (0.815, 0.381), (0.812, 0.375), (0.806, 0.366), (0.806, 0.362), (0.794, 0.377),
               (0.800, 0.378), (0.824, 0.358), (0.874, 0.357), (0.573, 0.333), (0.577, 0.343),
               (0.589, 0.337), (0.593, 0.335), (0.602, 0.336), (0.607, 0.333), (0.626, 0.339),
               (0.631, 0.336), (0.634, 0.343), (0.638, 0.337), (0.658, 0.337), (0.663, 0.343),
               (0.671, 0.342), (0.671, 0.337), (0.679, 0.339), (0.684, 0.342), (0.689, 0.343),
               (0.697, 0.341), (0.703, 0.335), (0.731, 0.343), (0.736, 0.353), (0.740, 0.336),
               (0.746, 0.337), (0.749, 0.348), (0.751, 0.342), (0.762, 0.339), (0.766, 0.359),
               (0.768, 0.348), (0.778, 0.337), (0.783, 0.339), (0.794, 0.342), (0.794, 0.315),
               (0.813, 0.325), (0.818, 0.337), (0.824, 0.337), (0.830, 0.344), (0.834, 0.335),
               (0.837, 0.345), (0.835, 0.337), (0.861, 0.344), (0.861, 0.337), (0.868, 0.339),
               (0.874, 0.346), (0.874, 0.337), (0.877, 0.317), (0.879, 0.300), (0.858, 0.315),
               (0.862, 0.269), (0.836, 0.229), (0.688, 0.317), (0.722, 0.301), (0.731, 0.317),
               (0.746, 0.289), (0.747, 0.261), (0.746, 0.252), (0.751, 0.230), (0.767, 0.289),
               (0.783, 0.270), (0.783, 0.240), (0.777, 0.226), (0.800, 0.266), (0.665, 0.289),
               (0.683, 0.284), (0.697, 0.286), (0.697, 0.263), (0.714, 0.266), (0.721, 0.231),
               (0.711, 0.222), (0.874, 0.225), (0.794, 0.145), (0.693, 0.107), (0.650, 0.078),
               (0.650, 0.198), (0.593, 0.135), (0.600, 0.146), (0.603, 0.123), (0.616, 0.139),
               (0.591, 0.315), (0.596, 0.294), (0.582, 0.300), (0.578, 0.286), (0.604, 0.251),
               (0.612, 0.251), (0.622, 0.240), (0.615, 0.236), (0.631, 0.233), (0.636, 0.240),
               (0.641, 0.236), (0.654, 0.238), (0.663, 0.228), (0.667, 0.231), (0.640, 0.285),
               (0.630, 0.273), (0.618, 0.313), (0.623, 0.315), (0.627, 0.317), (0.575, 0.240),
               (0.584, 0.227), (0.632, 0.213), (0.657, 0.271), (0.658, 0.261), (0.888, 0.380),
               (0.913, 0.367), (0.889, 0.341), (0.889, 0.338), (0.895, 0.339), (0.901, 0.334),
               (0.902, 0.343), (0.924, 0.337), (0.939, 0.339), (0.939, 0.335), (0.954, 0.334),
               (0.954, 0.331), (0.969, 0.336), (0.978, 0.333), (0.978, 0.328), (0.986, 0.335),
               (0.986, 0.324), (0.993, 0.341), (0.993, 0.328), (0.978, 0.315), (0.986, 0.316),
               (0.933, 0.314), (0.880, 0.299), (0.889, 0.238), (0.894, 0.208), (0.916, 0.216),
               (0.927, 0.251), (0.939, 0.219), (0.946, 0.217), (0.950, 0.197), (0.970, 0.224),
               (0.970, 0.220), (0.978, 0.231), (0.946, 0.139), (0.903, 0.128), (0.916, 0.046)]

# ---------------- UV (mW/cm2) ----------------
uv_core = {
    0.243: [0.25, 0.30, 0.34, 0.38, 0.42],
    0.249: [0.22, 0.27, 0.31, 0.35, 0.40, 0.44, 0.47],
    0.255: [0.20, 0.24, 0.28, 0.32, 0.36, 0.39, 0.43, 0.46, 0.50],
    0.261: [0.21, 0.25, 0.27, 0.30, 0.33, 0.35, 0.38, 0.41, 0.44, 0.48, 0.52],
    0.267: [0.19, 0.22, 0.25, 0.28, 0.31, 0.33, 0.36, 0.39, 0.42, 0.45, 0.47, 0.51, 0.55],
    0.273: [0.18, 0.21, 0.23, 0.26, 0.28, 0.30, 0.32, 0.35, 0.37, 0.40, 0.42, 0.44, 0.46,
            0.49, 0.53, 0.58],
    0.279: [0.20, 0.22, 0.24, 0.27, 0.29, 0.31, 0.33, 0.36, 0.38, 0.41, 0.43, 0.45, 0.48,
            0.50, 0.54],
    0.285: [0.19, 0.21, 0.24, 0.26, 0.28, 0.30, 0.33, 0.35, 0.37, 0.39, 0.42, 0.44, 0.47,
            0.49, 0.52, 0.56],
    0.291: [0.17, 0.185, 0.20, 0.215, 0.23, 0.245, 0.26, 0.275, 0.29, 0.305, 0.32, 0.335,
            0.35, 0.365, 0.38, 0.395, 0.41, 0.425, 0.44, 0.455, 0.47, 0.485, 0.50, 0.515,
            0.53, 0.545, 0.56],
    0.297: [0.19, 0.22, 0.24, 0.26, 0.29, 0.31, 0.33, 0.35, 0.37, 0.40, 0.42, 0.44, 0.46,
            0.49, 0.51, 0.54],
    0.303: [0.20, 0.23, 0.25, 0.27, 0.30, 0.32, 0.34, 0.36, 0.38, 0.41, 0.43, 0.45, 0.48,
            0.50, 0.53, 0.57],
    0.309: [0.16, 0.175, 0.19, 0.205, 0.22, 0.235, 0.25, 0.265, 0.28, 0.295, 0.31, 0.325,
            0.34, 0.355, 0.37, 0.385, 0.40, 0.415, 0.43, 0.445, 0.46, 0.475, 0.49, 0.505,
            0.52, 0.535, 0.55, 0.565, 0.58, 0.595],
    0.315: [0.18, 0.21, 0.23, 0.26, 0.28, 0.30, 0.32, 0.35, 0.37, 0.39, 0.41, 0.44, 0.46,
            0.48, 0.51, 0.53, 0.56],
    0.321: [0.20, 0.22, 0.25, 0.27, 0.29, 0.31, 0.34, 0.36, 0.38, 0.40, 0.43, 0.45, 0.47,
            0.50, 0.52, 0.55],
    0.327: [0.19, 0.205, 0.22, 0.235, 0.25, 0.265, 0.28, 0.295, 0.31, 0.325, 0.34, 0.355,
            0.37, 0.385, 0.40, 0.415, 0.43, 0.445, 0.46, 0.475, 0.49, 0.505, 0.52, 0.535,
            0.55, 0.565, 0.58, 0.60, 0.62, 0.64, 0.66, 0.675],
    0.333: [0.21, 0.23, 0.26, 0.28, 0.30, 0.33, 0.35, 0.37, 0.39, 0.42, 0.44, 0.46, 0.49,
            0.51, 0.54],
    0.339: [0.20, 0.22, 0.24, 0.27, 0.29, 0.31, 0.34, 0.36, 0.38, 0.40, 0.43, 0.45, 0.47,
            0.50, 0.52, 0.55],
    0.345: [0.18, 0.195, 0.21, 0.225, 0.24, 0.255, 0.27, 0.285, 0.30, 0.315, 0.33, 0.345,
            0.36, 0.375, 0.39, 0.405, 0.42, 0.435, 0.45, 0.465, 0.48, 0.495, 0.51, 0.525,
            0.54, 0.555, 0.57, 0.585, 0.61, 0.63],
    0.351: [0.21, 0.24, 0.26, 0.28, 0.31, 0.33, 0.35, 0.38, 0.40, 0.42, 0.45, 0.47, 0.49,
            0.52, 0.55],
    0.357: [0.20, 0.22, 0.25, 0.27, 0.29, 0.32, 0.34, 0.36, 0.39, 0.41, 0.43, 0.46, 0.48,
            0.51, 0.53, 0.57],
    0.364: [0.17, 0.185, 0.20, 0.215, 0.23, 0.245, 0.26, 0.275, 0.29, 0.305, 0.32, 0.335,
            0.35, 0.365, 0.38, 0.395, 0.41, 0.425, 0.44, 0.455, 0.47, 0.485, 0.50, 0.515,
            0.53, 0.545, 0.56, 0.575, 0.59, 0.605, 0.62, 0.635, 0.65, 0.665, 0.68, 0.695],
    0.370: [0.22, 0.25, 0.27, 0.30, 0.32, 0.34, 0.37, 0.39, 0.41, 0.44, 0.46, 0.49, 0.51, 0.54],
    0.376: [0.23, 0.26, 0.28, 0.31, 0.33, 0.36, 0.38, 0.40, 0.43, 0.45, 0.48, 0.50, 0.53, 0.56],
    0.381: [0.23, 0.245, 0.26, 0.275, 0.29, 0.305, 0.32, 0.335, 0.35, 0.365, 0.38, 0.395,
            0.41, 0.425, 0.44, 0.455, 0.47, 0.485, 0.50, 0.515, 0.53, 0.545, 0.56, 0.575,
            0.59, 0.605, 0.63, 0.645, 0.66, 0.675],
    0.387: [0.26, 0.29, 0.32, 0.35, 0.38, 0.41, 0.44, 0.47, 0.50, 0.53],
    0.393: [0.28, 0.31, 0.34, 0.37, 0.40, 0.43, 0.46, 0.49, 0.52, 0.55],
    0.400: [0.30, 0.32, 0.34, 0.36, 0.38, 0.40, 0.42, 0.44, 0.46, 0.48, 0.50, 0.52, 0.55,
            0.57, 0.59, 0.63, 0.645, 0.66, 0.675],
    0.406: [0.33, 0.37, 0.41, 0.45, 0.49, 0.53],
    0.412: [0.36, 0.40, 0.44, 0.48, 0.52],
    0.419: [0.38, 0.43, 0.47, 0.51, 0.56, 0.64, 0.65],
}

# in-between points of the UV block
uv_fill = {
    0.258: [0.23, 0.29, 0.34, 0.41, 0.45],
    0.264: [0.20, 0.26, 0.31, 0.37, 0.43, 0.49],
    0.270: [0.24, 0.29, 0.34, 0.38, 0.44, 0.50],
    0.276: [0.19, 0.25, 0.30, 0.34, 0.39, 0.44, 0.47, 0.52],
    0.282: [0.23, 0.26, 0.32, 0.36, 0.40, 0.45, 0.51],
    0.288: [0.20, 0.25, 0.29, 0.34, 0.38, 0.43, 0.48, 0.53],
    0.294: [0.21, 0.27, 0.30, 0.36, 0.41, 0.45, 0.50],
    0.300: [0.18, 0.24, 0.28, 0.33, 0.39, 0.43, 0.47, 0.52, 0.55],
    0.306: [0.21, 0.26, 0.31, 0.35, 0.42, 0.48, 0.53],
    0.312: [0.20, 0.24, 0.29, 0.34, 0.38, 0.43, 0.47, 0.50, 0.54],
    0.318: [0.19, 0.25, 0.29, 0.33, 0.37, 0.42, 0.49, 0.53],
    0.324: [0.21, 0.26, 0.30, 0.35, 0.39, 0.44, 0.48, 0.54],
    0.330: [0.22, 0.25, 0.29, 0.34, 0.38, 0.41, 0.45, 0.50, 0.56],
    0.336: [0.19, 0.23, 0.28, 0.32, 0.37, 0.41, 0.46, 0.53],
    0.342: [0.21, 0.26, 0.30, 0.35, 0.39, 0.44, 0.48, 0.51],
    0.348: [0.20, 0.23, 0.27, 0.32, 0.37, 0.41, 0.46, 0.50, 0.54],
    0.354: [0.22, 0.26, 0.30, 0.34, 0.39, 0.44, 0.47, 0.52],
    0.360: [0.19, 0.24, 0.28, 0.33, 0.37, 0.42, 0.45, 0.50, 0.55],
    0.367: [0.21, 0.26, 0.31, 0.35, 0.40, 0.45, 0.48, 0.52],
    0.373: [0.24, 0.28, 0.33, 0.38, 0.42, 0.47, 0.52],
    0.379: [0.25, 0.30, 0.34, 0.39, 0.44, 0.49, 0.54],
    0.384: [0.27, 0.31, 0.36, 0.40, 0.45, 0.49, 0.52],
    0.390: [0.28, 0.33, 0.37, 0.42, 0.46, 0.51],
    0.397: [0.31, 0.35, 0.39, 0.43, 0.47, 0.51],
}

uv_upper = [(0.309, 1.000), (0.309, 0.953), (0.309, 0.842), (0.309, 0.754), (0.309, 0.745),
            (0.309, 0.736), (0.309, 0.727), (0.309, 0.661), (0.309, 0.621), (0.345, 0.981),
            (0.345, 0.817), (0.345, 0.724), (0.345, 0.680), (0.363, 0.974), (0.363, 0.925),
            (0.363, 0.822), (0.363, 0.810), (0.363, 0.776), (0.363, 0.770), (0.363, 0.762),
            (0.363, 0.755), (0.363, 0.748), (0.363, 0.740), (0.363, 0.732), (0.326, 0.884),
            (0.326, 0.830), (0.326, 0.797), (0.326, 0.774), (0.326, 0.767), (0.326, 0.758),
            (0.326, 0.749), (0.381, 0.859), (0.381, 0.802), (0.381, 0.766), (0.381, 0.745),
            (0.381, 0.722), (0.381, 0.698), (0.291, 0.851), (0.291, 0.776), (0.291, 0.767),
            (0.291, 0.758), (0.291, 0.749), (0.291, 0.740), (0.401, 0.683), (0.397, 0.755),
            (0.401, 0.774), (0.419, 0.743), (0.419, 0.736), (0.419, 0.718), (0.419, 0.682),
            (0.419, 0.653), (0.419, 0.642), (0.273, 0.873), (0.273, 0.717), (0.441, 0.711),
            (0.439, 0.671), (0.439, 0.605), (0.489, 0.661), (0.477, 0.587), (0.458, 0.642),
            (0.518, 0.634), (0.518, 0.623), (0.538, 0.668), (0.538, 0.654), (0.538, 0.645),
            (0.538, 0.618), (0.559, 0.633), (0.559, 0.619), (0.559, 0.555), (0.497, 0.548),
            (0.497, 0.537), (0.458, 0.542), (0.458, 0.488), (0.458, 0.469), (0.477, 0.488),
            (0.497, 0.475), (0.497, 0.456), (0.472, 0.482), (0.432, 0.482), (0.439, 0.471),
            (0.427, 0.571), (0.430, 0.558), (0.436, 0.559), (0.439, 0.547), (0.415, 0.612),
            (0.409, 0.604), (0.405, 0.595), (0.416, 0.718), (0.391, 0.628), (0.390, 0.641),
            (0.374, 0.676), (0.372, 0.659), (0.355, 0.664), (0.355, 0.639), (0.338, 0.732),
            (0.337, 0.718), (0.329, 0.712), (0.353, 0.710), (0.354, 0.699), (0.276, 0.661),
            (0.286, 0.653), (0.283, 0.634), (0.295, 0.618), (0.265, 0.579), (0.304, 0.724),
            (0.307, 0.661), (0.316, 0.663), (0.312, 0.641), (0.318, 0.641), (0.302, 0.617),
            (0.321, 0.651), (0.332, 0.634), (0.341, 0.656), (0.350, 0.619), (0.370, 0.676),
            (0.376, 0.634), (0.385, 0.661), (0.392, 0.666), (0.579, 0.682), (0.600, 0.636),
            (0.732, 0.603), (0.825, 0.595), (0.687, 0.560), (0.643, 0.534), (0.600, 0.468),
            (1.000, 0.578), (0.600, 0.265)]

uv_spread = [(0.204, 0.665), (0.204, 0.656), (0.221, 0.640), (0.247, 0.623), (0.246, 0.612),
             (0.254, 0.589), (0.205, 0.559), (0.221, 0.562), (0.221, 0.536), (0.238, 0.523),
             (0.249, 0.528), (0.255, 0.529), (0.154, 0.615), (0.204, 0.499), (0.138, 0.466),
             (0.122, 0.456), (0.182, 0.463), (0.187, 0.466), (0.107, 0.425), (0.091, 0.388),
             (0.234, 0.466), (0.239, 0.455), (0.238, 0.453), (0.245, 0.429), (0.235, 0.420),
             (0.241, 0.409), (0.249, 0.413), (0.256, 0.427), (0.252, 0.440), (0.258, 0.449),
             (0.188, 0.387), (0.204, 0.387), (0.000, 0.334), (0.015, 0.315), (0.045, 0.261),
             (0.091, 0.263), (0.090, 0.220), (0.107, 0.222), (0.123, 0.457), (0.123, 0.339),
             (0.139, 0.317), (0.139, 0.465), (0.171, 0.269), (0.187, 0.239), (0.187, 0.384),
             (0.187, 0.368), (0.204, 0.359), (0.204, 0.331), (0.204, 0.320), (0.204, 0.269),
             (0.204, 0.238), (0.204, 0.227), (0.195, 0.139), (0.215, 0.043), (0.239, 0.031),
             (0.250, 0.036), (0.254, 0.045), (0.258, 0.043), (0.242, 0.137), (0.243, 0.110),
             (0.213, 0.200), (0.215, 0.160), (0.220, 0.154), (0.227, 0.156), (0.225, 0.180),
             (0.232, 0.180), (0.233, 0.191), (0.240, 0.201), (0.241, 0.214), (0.237, 0.227),
             (0.246, 0.189), (0.250, 0.169), (0.256, 0.152), (0.258, 0.134), (0.254, 0.182),
             (0.258, 0.205), (0.209, 0.249), (0.217, 0.258), (0.221, 0.236), (0.228, 0.227),
             (0.237, 0.244), (0.207, 0.297), (0.219, 0.289), (0.211, 0.271), (0.223, 0.311),
             (0.235, 0.333), (0.241, 0.350), (0.245, 0.377), (0.249, 0.359), (0.237, 0.386),
             (0.252, 0.333), (0.254, 0.289), (0.252, 0.262), (0.256, 0.236), (0.237, 0.262),
             (0.243, 0.271), (0.249, 0.311), (0.266, 0.200), (0.274, 0.176), (0.282, 0.187),
             (0.290, 0.160), (0.294, 0.171), (0.302, 0.169), (0.308, 0.182), (0.314, 0.178),
             (0.322, 0.160), (0.326, 0.176), (0.334, 0.182), (0.342, 0.160), (0.348, 0.182),
             (0.356, 0.200), (0.362, 0.191), (0.375, 0.189), (0.381, 0.180), (0.266, 0.160),
             (0.268, 0.138), (0.274, 0.143), (0.274, 0.116), (0.282, 0.114), (0.290, 0.098),
             (0.290, 0.152), (0.298, 0.154), (0.305, 0.121), (0.308, 0.138), (0.308, 0.129),
             (0.317, 0.116), (0.319, 0.107), (0.327, 0.125), (0.331, 0.134), (0.339, 0.129),
             (0.347, 0.151), (0.358, 0.130), (0.363, 0.134), (0.363, 0.108), (0.381, 0.145),
             (0.397, 0.139), (0.405, 0.160), (0.308, 0.079), (0.312, 0.074), (0.313, 0.068),
             (0.307, 0.060), (0.308, 0.046), (0.273, 0.057), (0.283, 0.000), (0.262, 0.043),
             (0.398, 0.227), (0.401, 0.233), (0.419, 0.298), (0.419, 0.249), (0.402, 0.284),
             (0.439, 0.258), (0.458, 0.311), (0.458, 0.373), (0.477, 0.264), (0.497, 0.457)]

# linear fits: intercept, slope, centre of x, band half-widths
fit_b0 = [0.780, 0.347, 0.090]
fit_b1 = [-0.908, 0.148, 0.950]
fit_xbar = [0.40, 0.37, 0.33]
fit_se0 = [0.003, 0.003, 0.004]
fit_se1 = [0.020, 0.022, 0.090]


def unpack(pairs, *column_sets):
    xs = [p[0] for p in pairs]
    ys = [p[1] for p in pairs]
    for columns in column_sets:
        for x, yl in columns.items():
            xs += [x] * len(yl)
            ys += list(yl)
    return np.array(xs), np.array(ys)


humid_x, humid_y = unpack(humid_tail + humid_ridge + humid_hidden + humid_spread,
                          humid_core, humid_fill)
light_x, light_y = unpack(light_left + light_mid + light_right, light_core, light_fill)
uv_x, uv_y = unpack(uv_upper + uv_spread, uv_core, uv_fill)

fig = plt.figure(figsize=(15, 9), dpi=200)
ax = fig.add_axes([0.049, 0.0733, 0.943, 0.8734])
ax.set_facecolor('#EBEBEB')
for s in ax.spines.values():
    s.set_visible(False)

for xs, ys, c in ((humid_x, humid_y, humid_col), (light_x, light_y, light_col),
                  (uv_x, uv_y, uv_col)):
    ax.scatter(xs, ys, s=40, color=c, alpha=0.7, edgecolors=c, linewidths=0.9, zorder=2)

xx = np.linspace(0, 1, 200)
for b0, b1, xb, s0, s1 in zip(fit_b0, fit_b1, fit_xbar, fit_se0, fit_se1):
    yy = b0 + b1 * xx
    hw = np.sqrt(s0 ** 2 + (s1 * (xx - xb)) ** 2)
    ax.fill_between(xx, yy - hw, yy + hw, color='#999999', alpha=0.4, lw=0, zorder=3)
    ax.plot(xx, yy, color='black', lw=2.8, zorder=4, solid_capstyle='butt')

ax.set_xlim(-0.05, 1.05)
ax.set_ylim(-0.2015, 1.162)
ax.set_xticks([0, 0.25, 0.5, 0.75, 1.0])
ax.set_xticklabels(['0.00', '0.25', '0.50', '0.75', '1.00'])
ax.set_xticks([0.125, 0.375, 0.625, 0.875], minor=True)
ax.set_yticks([0.0, 0.4, 0.8])
ax.set_yticklabels(['0.0', '0.4', '0.8'])
ax.set_yticks([-0.2, 0.2, 0.6, 1.0], minor=True)
ax.grid(which='major', color='white', lw=1.3)
ax.grid(which='minor', color='white', lw=0.7)
ax.set_axisbelow(True)
ax.tick_params(which='major', length=4.5, width=1.1, color='#333333',
               labelsize=11.8, labelcolor='#4D4D4D', pad=3)
ax.tick_params(which='minor', length=0)

ax.set_xlabel('Predictors ( %, lux, mW/cm² )', fontsize=16.5, labelpad=6)
ax.set_ylabel('Temperature (°C)', fontsize=16.5, labelpad=8)
ax.set_title('Multivariate Analysis: Temperature vs. Predictors', loc='left',
             fontsize=19.8, pad=13)

fig.savefig('out.png', dpi=200)
